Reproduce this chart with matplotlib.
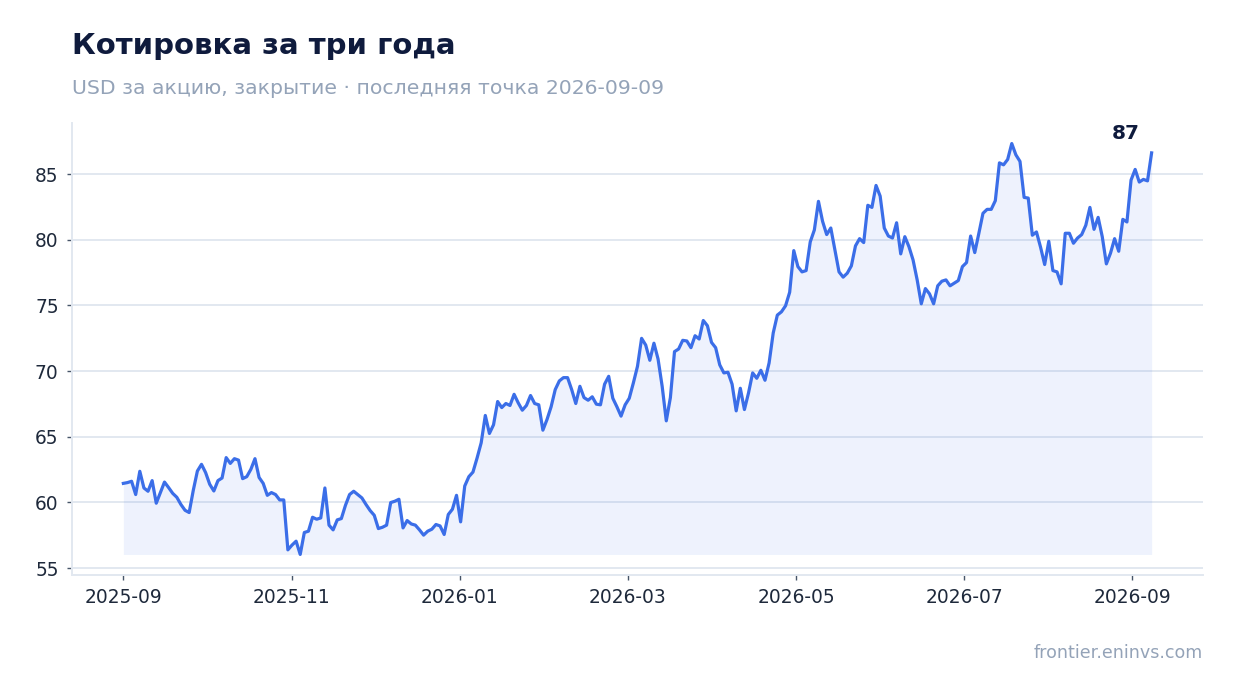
import matplotlib
matplotlib.use("Agg")
import matplotlib.pyplot as plt
import pandas as pd

start_date = "2025-09-01"
end_date = "2026-09-09"
close_prices = [
    61.45, 61.51, 61.61, 60.60, 62.37, 61.10, 60.85, 61.66, 59.94, 60.75,
    61.55, 61.13, 60.69, 60.39, 59.84, 59.40, 59.23, 60.92, 62.39, 62.90,
    62.27, 61.38, 60.87, 61.66, 61.86, 63.41, 62.97, 63.33, 63.22, 61.81,
    61.96, 62.52, 63.33, 61.90, 61.45, 60.54, 60.75, 60.60, 60.19, 60.19,
    56.39, 56.75, 57.05, 56.04, 57.71, 57.81, 58.87, 58.72, 58.82, 61.10,
    58.27, 57.91, 58.67, 58.77, 59.78, 60.60, 60.85, 60.60, 60.34, 59.84,
    59.38, 59.02, 58.01, 58.11, 58.27, 59.99, 60.09, 60.24, 58.06, 58.62,
    58.36, 58.27, 57.91, 57.51, 57.81, 57.96, 58.32, 58.21, 57.56, 59.08,
    59.48, 60.54, 58.52, 61.25, 61.96, 62.31, 63.38, 64.54, 66.62, 65.25,
    65.91, 67.68, 67.22, 67.53, 67.38, 68.23, 67.58, 67.02, 67.38, 68.14,
    67.53, 67.43, 65.50, 66.31, 67.28, 68.59, 69.25, 69.50, 69.50, 68.59,
    67.53, 68.84, 67.98, 67.78, 68.04, 67.48, 67.43, 69.00, 69.60, 67.93,
    67.28, 66.57, 67.43, 67.93, 69.10, 70.36, 72.49, 71.98, 70.82, 72.12,
    70.92, 68.84, 66.21, 67.98, 71.48, 71.68, 72.34, 72.29, 71.78, 72.69,
    72.44, 73.85, 73.45, 72.18, 71.78, 70.47, 69.86, 69.91, 69.00, 66.97,
    68.69, 67.07, 68.34, 69.86, 69.45, 70.06, 69.30, 70.62, 72.90, 74.26,
    74.51, 74.97, 76.00, 79.17, 77.95, 77.55, 77.65, 79.83, 80.74, 82.92,
    81.40, 80.39, 80.89, 79.22, 77.55, 77.15, 77.45, 78.01, 79.53, 80.08,
    79.78, 82.62, 82.46, 84.13, 83.32, 80.89, 80.28, 80.13, 81.29, 78.92,
    80.23, 79.47, 78.46, 76.94, 75.12, 76.28, 75.88, 75.12, 76.49, 76.84,
    76.94, 76.49, 76.69, 76.89, 77.95, 78.26, 80.28, 79.02, 80.49, 82.01,
    82.31, 82.31, 82.97, 85.85, 85.70, 86.11, 87.32, 86.46, 85.96, 83.22,
    83.17, 80.34, 80.59, 79.43, 78.11, 79.88, 77.65, 77.55, 76.64, 80.49,
    80.49, 79.73, 80.13, 80.39, 81.10, 82.46, 80.79, 81.70, 80.23, 78.16,
    78.97, 80.08, 79.12, 81.55, 81.35, 84.54, 85.35, 84.39, 84.59, 84.48,
    86.61,
]
yticks = [55, 60, 65, 70, 75, 80, 85]

title = "Котировка за три года"
subtitle = "USD за акцию, закрытие · последняя точка 2026-09-09"
source = "frontier.eninvs.com"

LINE = "#3b6ee8"
GRID = "#e2e8f0"
NAVY = "#0f1b3d"
MUTED = "#94a3b8"
TEXT = "#1e293b"

dates = pd.date_range(start_date, end_date, periods=len(close_prices))
prices = pd.Series(close_prices, index=dates)

fig = plt.figure(figsize=(12.34, 6.93), dpi=100)
ax = fig.add_axes([0.0583, 0.1703, 0.9166, 0.6522])

ax.fill_between(prices.index, prices.values, prices.min(), color=LINE, alpha=0.085, linewidth=0)
ax.plot(prices.index, prices.values, color=LINE, linewidth=2.3, solid_joinstyle="round")

last = prices.iloc[-1]
ax.annotate(f"{last:.0f}", xy=(prices.index[-1], last), xytext=(-12, 10),
            textcoords="offset pixels", ha="right", va="bottom",
            fontsize=14.5, fontweight="bold", color=NAVY)

# month ticks every 61 days
tick_pos = pd.date_range(start_date, periods=7, freq="61D")
ax.set_xticks(tick_pos)
ax.set_xticklabels([d.strftime("%Y-%m") for d in tick_pos])
ax.set_yticks(yticks)

ax.grid(axis="y", color=GRID, linewidth=1.4)
ax.set_axisbelow(True)
for side in ["top", "right"]:
    ax.spines[side].set_visible(False)
for side in ["left", "bottom"]:
    ax.spines[side].set_color(GRID)
    ax.spines[side].set_linewidth(1.4)
ax.tick_params(axis="both", labelsize=13.4, labelcolor=TEXT, color="#475569",
               length=3.5, width=1, pad=6)

fig.text(0.0583, 0.922, title, fontsize=21, fontweight="bold", color=NAVY, va="baseline")
fig.text(0.0583, 0.865, subtitle, fontsize=14.7, color=MUTED, va="baseline")
fig.text(0.975, 0.05, source, fontsize=12.6, color=MUTED, ha="right", va="baseline")

fig.savefig("out.png", dpi=100)
